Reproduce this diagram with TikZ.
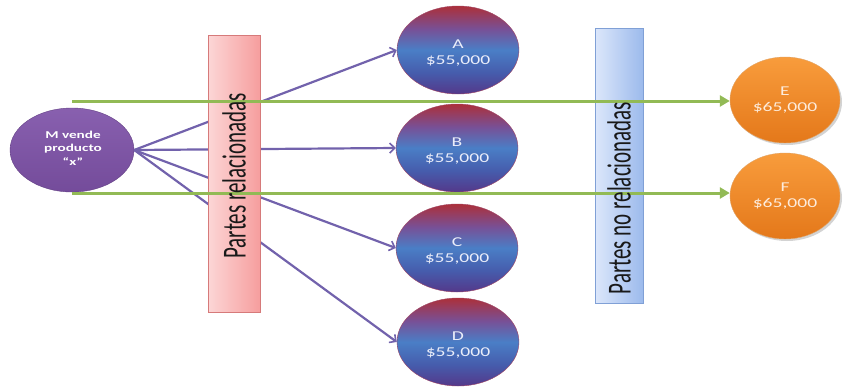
\documentclass[tikz,border=0pt]{standalone}
\usepackage{fontspec}
\setmainfont{Carlito}
\usetikzlibrary{shapes.geometric,arrows.meta,shadows}
\definecolor{relline}{HTML}{7262AC}
\definecolor{grnline}{HTML}{92BA55}
\definecolor{mfill}{HTML}{7E52A8}
\definecolor{ptop}{RGB}{172,48,58}
\definecolor{pupper}{RGB}{120,80,150}
\definecolor{pmid}{RGB}{74,126,198}
\definecolor{plower}{RGB}{70,92,172}
\definecolor{pbot}{RGB}{84,56,138}
\pgfdeclareverticalshading{partyshade}{100bp}{%
  color(0bp)=(pbot); color(25bp)=(pbot); color(37bp)=(plower);
  color(50bp)=(pmid); color(62bp)=(pupper); color(75bp)=(ptop); color(100bp)=(ptop)}
\newcommand\widetext[1]{\scalebox{1.45}[1]{#1}}
\newcommand\tallside[1]{\scalebox{1}[1.6]{#1}}
\tikzset{
  party/.style={ellipse, minimum width=122pt, minimum height=88pt, inner sep=0pt,
    draw={rgb,255:red,160;green,70;blue,100}, line width=0.4pt, shading=partyshade},
  outparty/.style={ellipse, minimum width=110pt, minimum height=86pt, inner sep=0pt,
    draw=orange!80!black!60, line width=0.4pt,
    top color={rgb,255:red,248;green,156;blue,60},
    bottom color={rgb,255:red,228;green,120;blue,26},
    drop shadow={shadow xshift=2pt, shadow yshift=-2pt, opacity=0.35}},
  seller/.style={ellipse, minimum width=124pt, minimum height=84pt, inner sep=0pt,
    draw=mfill!80!black, line width=0.4pt,
    top color=mfill!92!white, bottom color=mfill!92!black},
  amount/.style={align=center, font=\fontsize{13.5}{16}\selectfont},
  bar/.style={rectangle, inner sep=0pt, line width=0.5pt},
  barlabel/.style={rotate=90, font=\fontsize{21}{24}\selectfont, text=black!90},
  relarrow/.style={draw=relline, line width=2.2pt, -{Straight Barb[length=5pt,width=10pt,line width=1.6pt]}},
  grnarrow/.style={draw=grnline, line width=3pt, -{Triangle[length=10pt,width=11pt]}},
}
\begin{document}
\begin{tikzpicture}[x=1pt,y=-1pt]
\useasboundingbox (0,0) rectangle (843,389);

% seller and the related / unrelated parties
\node[seller] (M) at (72,150) {};
\node[party] (A) at (458,50) {};
\node[party] (B) at (457,148) {};
\node[party] (C) at (457,248) {};
\node[party] (D) at (458,342) {};
\node[outparty] (E) at (785,100) {};
\node[outparty] (F) at (785,196) {};

% sales to related parties
\draw[relarrow] (M.east) -- (A.west);
\draw[relarrow] (M.east) -- (B.west);
\draw[relarrow] (M.east) -- (C.west);
\draw[relarrow] (M.east) -- (D.west);

% the two group bars
\node[bar, draw={rgb,255:red,214;green,122;blue,122},
  left color={rgb,255:red,252;green,214;blue,214},
  right color={rgb,255:red,246;green,158;blue,158},
  minimum width=52pt, minimum height=277pt] (rel) at (234,173.5) {};
\node[bar, draw={rgb,255:red,128;green,160;blue,214},
  left color={rgb,255:red,220;green,231;blue,251},
  right color={rgb,255:red,156;green,186;blue,236},
  minimum width=48pt, minimum height=275pt] (norel) at (619,165.5) {};

% sales to unrelated parties
\coordinate (g1) at (72,101);
\coordinate (g2) at (72,193);
\draw[grnarrow] (g1) -- (g1 -| E.west);
\draw[grnarrow] (g2) -- (g2 -| F.west);

% texts
\node[barlabel] (relT) at (234,176) {\tallside{Partes relacionadas}};
\node[barlabel] (norelT) at (619,198) {\tallside{Partes no relacionadas}};
\node[align=center, text=white, font=\fontsize{10.5}{13.5}\selectfont\bfseries]
  (Mt) at (73,148) {\widetext{M vende}\\\widetext{producto}\\\widetext{“x”}};
\node[amount, text={rgb,255:red,235;green,238;blue,250}] (At) at (458,53) {\widetext{A}\\\widetext{\$55,000}};
\node[amount, text={rgb,255:red,235;green,238;blue,250}] (Bt) at (457,151) {\widetext{B}\\\widetext{\$55,000}};
\node[amount, text={rgb,255:red,235;green,238;blue,250}] (Ct) at (457,251) {\widetext{C}\\\widetext{\$55,000}};
\node[amount, text={rgb,255:red,235;green,238;blue,250}] (Dt) at (458,345) {\widetext{D}\\\widetext{\$55,000}};
\node[amount, text={rgb,255:red,253;green,236;blue,220}] (Et) at (785,100) {\widetext{E}\\\widetext{\$65,000}};
\node[amount, text={rgb,255:red,253;green,236;blue,220}] (Ft) at (785,196) {\widetext{F}\\\widetext{\$65,000}};
\end{tikzpicture}
\end{document}
